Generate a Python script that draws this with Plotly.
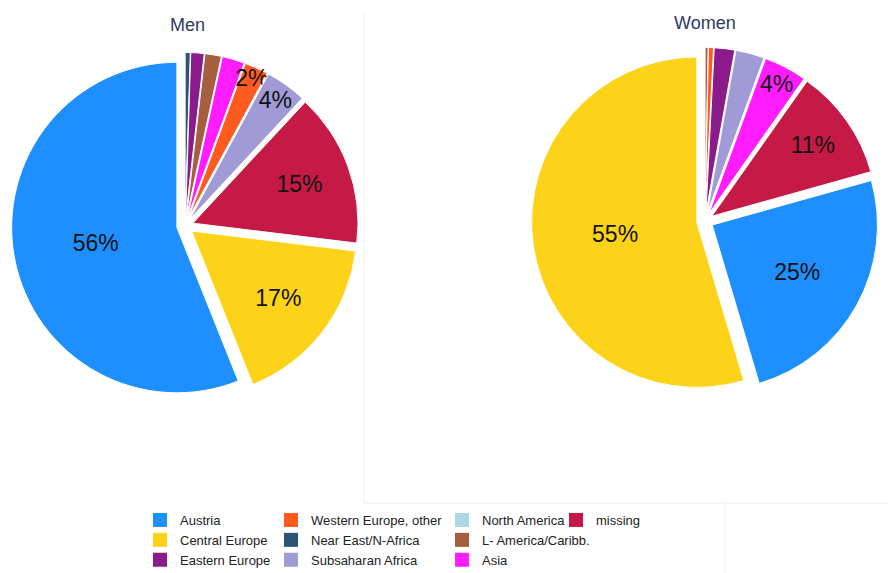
import plotly.graph_objects as go

categories = ["Austria", "Central Europe", "Eastern Europe", "Western Europe, other",
              "Near East/N-Africa", "Subsaharan Africa", "North America",
              "L- America/Caribb.", "Asia", "missing"]
men_values = [56, 17, 1.3, 2.3, 0.5, 4, 0, 1.6, 2.2, 15]
women_values = [24.8, 54.7, 2, 0.5, 0, 2.8, 0, 0.3, 4.2, 10.9]
# which slices carry a percentage label in the original
men_labelled = [True, True, False, True, False, True, False, False, False, True]
women_labelled = [True, True, False, False, False, False, False, False, True, True]

colors = ["#1E8FFF", "#FDD319", "#8B1A8B", "#FF5B1F", "#2C5478",
          "#A09AD6", "#ADD8E6", "#A65E3E", "#FF1CFF", "#C41A45"]
color_map = dict(zip(categories, colors))

legend_columns = [
    ["Austria", "Central Europe", "Eastern Europe"],
    ["Western Europe, other", "Near East/N-Africa", "Subsaharan Africa"],
    ["North America", "L- America/Caribb.", "Asia"],
    ["missing"],
]

W, H = 888, 573
FONT = "Liberation Sans, Arial, sans-serif"


def dom(cx, cy, size):
    return dict(x=[(cx - size / 2) / W, (cx + size / 2) / W],
                y=[(H - cy - size / 2) / H, (H - cy + size / 2) / H])


fig = go.Figure()

for vals, lab, d in [(men_values, men_labelled, dom(185, 226, 347)),
                     (women_values, women_labelled, dom(705, 221, 347))]:
    # ascending order drawn clockwise from 12 o'clock == descending counterclockwise
    order = sorted(range(len(categories)), key=lambda i: vals[i])
    fig.add_trace(go.Pie(
        labels=[categories[i] for i in order],
        values=[vals[i] for i in order],
        sort=False, direction="clockwise",
        marker=dict(colors=[colors[i] for i in order],
                    line=dict(color="white", width=1)),
        pull=0.05, domain=d,
        texttemplate=["%{percent:.0%}" if lab[i] else "" for i in order],
        textposition="inside", insidetextorientation="horizontal",
        insidetextfont=dict(color="#111111", size=23, family=FONT),
        showlegend=False, hoverinfo="label+percent",
    ))

legend_names = ["legend", "legend2", "legend3", "legend4"]
legend_x = [140, 271, 442, 556]
for col, lname in zip(legend_columns, legend_names):
    for cat in col:
        fig.add_trace(go.Scatter(
            x=[None], y=[None], mode="markers", name=cat, legend=lname,
            marker=dict(symbol="square", size=14, color=color_map[cat]),
            showlegend=True,
        ))

layout_legends = {}
for lname, lx in zip(legend_names, legend_x):
    layout_legends[lname] = dict(
        x=lx / W, y=1 - 505 / H, xanchor="left", yanchor="top",
        orientation="v", bgcolor="rgba(0,0,0,0)",
        font=dict(family=FONT, size=13, color="#222222"),
        itemclick=False, itemdoubleclick=False, tracegroupgap=0,
    )

fig.update_layout(
    width=W, height=H, margin=dict(l=0, r=0, t=0, b=0, autoexpand=False),
    paper_bgcolor="white", plot_bgcolor="white",
    xaxis=dict(visible=False), yaxis=dict(visible=False),
    uniformtext=dict(minsize=23, mode="show"),
    annotations=[
        dict(text="Men", x=187 / W, y=1 - 25 / H, xref="paper", yref="paper",
             xanchor="center", yanchor="middle",
             showarrow=False, font=dict(family=FONT, size=18, color="#2E3B5E")),
        dict(text="Women", x=705 / W, y=1 - 23 / H, xref="paper", yref="paper",
             xanchor="center", yanchor="middle",
             showarrow=False, font=dict(family=FONT, size=18, color="#2E3B5E")),
    ],
    shapes=[
        dict(type="line", xref="paper", yref="paper", x0=364 / W, x1=364 / W,
             y0=1 - 14 / H, y1=1 - 503 / H, line=dict(color="#EAF1F1", width=1)),
        dict(type="line", xref="paper", yref="paper", x0=364 / W, x1=1,
             y0=1 - 503 / H, y1=1 - 503 / H, line=dict(color="#EAF1F1", width=1)),
        dict(type="line", xref="paper", yref="paper", x0=725 / W, x1=725 / W,
             y0=1 - 503 / H, y1=0, line=dict(color="#EAF1F1", width=1)),
    ],
    **layout_legends,
)

fig.write_html("out.html", config={"displayModeBar": False},
               post_script="document.body.style.margin='0';")
